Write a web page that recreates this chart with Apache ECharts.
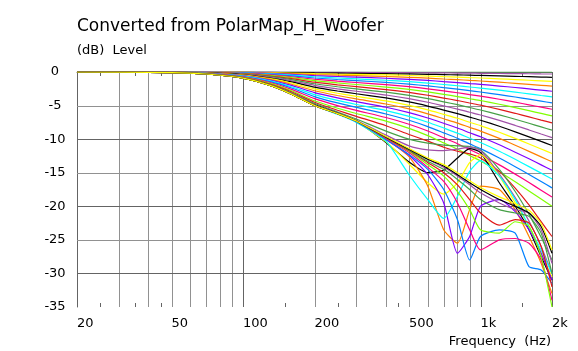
<!DOCTYPE html>
<html><head><meta charset="utf-8">
<script src="https://cdn.jsdelivr.net/npm/echarts@6/dist/echarts.min.js"></script>
<style>html,body{margin:0;padding:0;background:#fff}#c{width:578px;height:351px}</style>
</head><body><div id="c"></div>
<script>
// ---- data (dB vs Hz) ----
const freqs = [20,50,70,100,130,160,200,250,300,400,500,600,700,800,900,1000,1200,1400,1600,1800,2000];
const angles = [0,5,10,15,20,25,30,35,40,45,50,55,60,65,70,75,80,85,90,95,100,105,110,115,120,125,130,135,140,145,150,155,160,165,170,175,180];

const a000 = [0,0,0,0,0,0,0,0,0,0,0,0,0,0,0,0,0,0,0,0,0];
const a005 = [0,0,0,0,0,0,-0.05,-0.06,-0.07,-0.09,-0.1,-0.12,-0.14,-0.16,-0.17,-0.19,-0.22,-0.24,-0.26,-0.29,-0.3];
const a010 = [0,0,-0.01,-0.03,-0.06,-0.09,-0.14,-0.17,-0.2,-0.25,-0.29,-0.34,-0.39,-0.43,-0.47,-0.51,-0.58,-0.64,-0.7,-0.75,-0.8];
const a015 = [0,0,-0.02,-0.05,-0.1,-0.16,-0.25,-0.32,-0.36,-0.44,-0.52,-0.6,-0.69,-0.76,-0.83,-0.89,-1.01,-1.13,-1.23,-1.32,-1.4];
const a020 = [0,0,-0.02,-0.07,-0.15,-0.25,-0.38,-0.48,-0.55,-0.67,-0.79,-0.91,-1.04,-1.14,-1.25,-1.34,-1.52,-1.69,-1.84,-1.98,-2.1];
const a025 = [0,-0.01,-0.03,-0.1,-0.21,-0.35,-0.54,-0.67,-0.77,-0.93,-1.1,-1.26,-1.43,-1.57,-1.72,-1.84,-2.09,-2.31,-2.52,-2.71,-2.87];
const a030 = [0,-0.01,-0.04,-0.13,-0.28,-0.46,-0.71,-0.89,-1.02,-1.23,-1.44,-1.65,-1.86,-2.05,-2.23,-2.39,-2.71,-3.0,-3.26,-3.5,-3.71];
const a035 = [0,-0.01,-0.05,-0.16,-0.35,-0.58,-0.89,-1.12,-1.28,-1.55,-1.81,-2.07,-2.33,-2.55,-2.78,-2.98,-3.37,-3.72,-4.05,-4.34,-4.6];
const a040 = [0,-0.02,-0.07,-0.2,-0.43,-0.71,-1.08,-1.36,-1.56,-1.88,-2.19,-2.5,-2.81,-3.09,-3.36,-3.6,-4.06,-4.49,-4.89,-5.24,-5.55];
const a045 = [0,-0.02,-0.08,-0.24,-0.51,-0.84,-1.29,-1.63,-1.86,-2.24,-2.6,-2.97,-3.33,-3.66,-3.98,-4.25,-4.8,-5.3,-5.76,-6.17,-6.54];
const a050 = [0,-0.02,-0.09,-0.28,-0.6,-0.99,-1.52,-1.91,-2.19,-2.62,-3.04,-3.46,-3.88,-4.25,-4.62,-4.94,-5.57,-6.15,-6.68,-7.16,-7.58];
const a055 = [0,-0.03,-0.11,-0.32,-0.69,-1.14,-1.75,-2.2,-2.52,-3.01,-3.49,-3.97,-4.45,-4.87,-5.29,-5.66,-6.38,-7.04,-7.64,-8.18,-8.66];
const a060 = [0,-0.03,-0.12,-0.36,-0.79,-1.3,-1.99,-2.51,-2.87,-3.43,-3.97,-4.51,-5.05,-5.52,-5.99,-6.4,-7.21,-7.96,-8.63,-9.24,-9.78];
const a065 = [0,-0.03,-0.14,-0.41,-0.89,-1.47,-2.25,-2.83,-3.24,-3.86,-4.46,-5.07,-5.67,-6.2,-6.72,-7.18,-8.08,-8.91,-9.66,-10.34,-10.94];
const a070 = [0,-0.04,-0.15,-0.46,-0.99,-1.64,-2.52,-3.16,-3.62,-4.31,-4.98,-5.64,-6.31,-6.89,-7.48,-7.98,-8.98,-9.89,-10.72,-11.47,-12.14];
const a075 = [0,-0.04,-0.17,-0.51,-1.1,-1.82,-2.79,-3.5,-4.01,-4.77,-5.5,-6.23,-6.97,-7.61,-8.25,-8.8,-9.89,-10.9,-11.82,-12.64,-13.37];
const a080 = [0,-0.05,-0.19,-0.56,-1.21,-2.0,-3.07,-3.86,-4.42,-5.25,-6.05,-6.85,-7.64,-8.34,-9.04,-9.64,-10.84,-11.94,-12.93,-13.83,-14.63];
const a085 = [0,-0.05,-0.2,-0.61,-1.32,-2.19,-3.36,-4.23,-4.84,-5.74,-6.61,-7.48,-8.34,-9.1,-9.86,-10.51,-11.81,-13.0,-14.09,-15.06,-15.93];
const a090 = [0,-0.06,-0.22,-0.67,-1.44,-2.39,-3.66,-4.61,-5.27,-6.25,-7.19,-8.13,-9.06,-9.88,-10.7,-11.41,-12.81,-14.1,-15.27,-16.32,-17.26];
const a095 = [0,-0.06,-0.24,-0.72,-1.57,-2.59,-3.97,-5.0,-5.72,-6.78,-7.78,-8.79,-9.8,-10.68,-11.56,-12.32,-13.83,-15.21,-16.47,-17.6,-18.61];
const a100 = [0,-0.07,-0.26,-0.78,-1.69,-2.8,-4.29,-5.4,-6.18,-7.31,-8.39,-9.47,-10.55,-11.5,-12.44,-13.25,-14.87,-16.36,-17.71,-18.92,-20.0];
const a105 = [0,-0.07,-0.28,-0.82,-1.8,-2.95,-4.5,-5.7,-6.6,-8.0,-9.3,-10.3,-11.2,-11.8,-12.2,-12.8,-14.8,-17.3,-19.8,-22.3,-24.5];
const a110 = [0,-0.07,-0.29,-0.86,-1.9,-3.1,-4.7,-5.95,-7.0,-8.8,-10.0,-10.6,-10.9,-11.0,-11.1,-11.6,-14.5,-17.8,-21.2,-24.6,-28.0];
const a115 = [0,-0.07,-0.3,-0.88,-1.95,-3.2,-4.85,-6.1,-7.2,-9.4,-11.0,-11.6,-11.7,-11.5,-11.2,-11.7,-15.2,-18.7,-22.2,-26.0,-30.0];
const a120 = [0,-0.08,-0.3,-0.9,-1.95,-3.25,-4.9,-6.1,-7.3,-10.5,-13.4,-15.0,-14.6,-12.8,-11.4,-12.0,-16.5,-20.0,-23.5,-27.5,-31.0];
const a125 = [0,-0.08,-0.3,-0.9,-2.0,-3.3,-5.0,-6.2,-7.4,-10.4,-13.7,-16.5,-18.2,-16.5,-13.5,-12.3,-15.5,-19.5,-23.0,-27.0,-30.5];
const a130 = [0,-0.08,-0.3,-0.9,-2.0,-3.3,-5.0,-6.2,-7.3,-10.0,-12.6,-17.0,-23.5,-25.5,-20.5,-17.0,-17.5,-20.5,-24.5,-28.5,-33.0];
const a135 = [0,-0.08,-0.3,-0.9,-2.0,-3.3,-5.0,-6.2,-7.4,-10.1,-12.4,-15.3,-19.5,-27.0,-24.5,-20.0,-19.0,-20.8,-23.5,-27.0,-31.0];
const a140 = [0,-0.08,-0.3,-0.9,-2.0,-3.3,-5.0,-6.3,-7.5,-10.3,-15.3,-19.0,-21.8,-18.5,-14.8,-13.2,-15.5,-19.0,-23.0,-26.5,-30.0];
const a145 = [0,-0.08,-0.3,-0.9,-2.0,-3.3,-5.0,-6.2,-7.4,-10.0,-12.3,-14.5,-17.5,-22.0,-28.0,-24.5,-23.5,-24.0,-29.0,-29.5,-31.5];
const a150 = [0,-0.08,-0.3,-0.9,-2.0,-3.3,-5.0,-6.2,-7.3,-9.9,-12.0,-14.2,-16.3,-19.5,-23.5,-26.5,-25.0,-24.8,-25.5,-28.0,-34.0];
const a155 = [0,-0.08,-0.3,-0.9,-2.0,-3.3,-5.0,-6.2,-7.3,-9.8,-11.8,-13.8,-15.5,-17.8,-20.5,-23.5,-24.0,-22.3,-23.0,-27.5,-35.0];
const a160 = [0,-0.08,-0.3,-0.9,-2.0,-3.3,-5.0,-6.2,-7.3,-9.8,-11.7,-13.5,-15.0,-16.8,-19.0,-21.0,-22.8,-22.0,-22.5,-26.0,-32.0];
const a165 = [0,-0.08,-0.3,-0.9,-2.0,-3.3,-5.0,-6.2,-7.3,-9.7,-11.6,-13.3,-14.5,-16.0,-17.5,-19.0,-20.5,-21.0,-21.5,-24.0,-30.0];
const a170 = [0,-0.08,-0.3,-0.9,-2.0,-3.3,-5.0,-6.2,-7.3,-9.7,-11.5,-13.0,-14.2,-15.5,-16.8,-18.0,-19.5,-20.5,-21.0,-23.5,-28.5];
const a175 = [0,-0.08,-0.3,-0.9,-2.0,-3.3,-5.0,-6.2,-7.3,-9.7,-11.5,-13.0,-14.0,-15.3,-16.5,-17.5,-19.0,-20.0,-21.0,-23.0,-27.0];
const a180 = [0,-0.08,-0.3,-0.9,-2.0,-3.3,-5.0,-6.2,-7.3,-9.6,-11.4,-12.8,-13.8,-15.0,-16.2,-17.2,-18.6,-19.6,-20.6,-22.6,-26.5];

const curves = [a000,a005,a010,a015,a020,a025,a030,a035,a040,a045,a050,a055,a060,a065,a070,a075,a080,a085,a090,a095,a100,
  a105,a110,a115,a120,a125,a130,a135,a140,a145,a150,a155,a160,a165,a170,a175,a180];

const gridFreqs = [20,30,40,50,60,70,80,90,100,200,300,400,500,600,700,800,900,1000,2000];
const minorTickFreqs = [25,35,45,150,250,450,1500];
const gridLevels = [-30,-25,-20,-15,-10,-5,0];
const xTickValues = [20,50,100,200,500,1000,2000];
const xTickLabels = ['20','50','100','200','500','1k','2k'];

// ---- chart ----
const FONT = '"DejaVu Sans", Verdana, sans-serif';
const palette = ['#46a046','#a050a8','#000000','#ffff00','#ff8000','#8000ff','#00ffff','#0080ff','#ff0080','#80ff00','#e01818'];
const DARK = '#646464', LIGHT = '#919191';
const chart = echarts.init(document.getElementById('c'), null, {renderer:'canvas'});

const lineSeries = curves.map((vals, i) => ({
  type: 'line', name: angles[i] + '°',
  data: freqs.map((f, j) => [f, vals[j]]),
  symbol: 'none', showSymbol: false, smooth: 0.2, clip: true,
  lineStyle: {width: 1.2, color: palette[i % palette.length]},
  z: 3, silent: true, animation: false
}));

const vGrid = {
  type: 'custom', z: 1, silent: true, clip: false, animation: false,
  data: gridFreqs.map(f => [f, 0]), encode: {x: 0, y: 1},
  renderItem: (params, api) => {
    const f = api.value(0);
    const p0 = api.coord([f, 0]), p1 = api.coord([f, -35]);
    const dark = (f === 20 || f === 100 || f === 1000 || f === 2000);
    const x = Math.round(p0[0]) + 0.5;
    return {type: 'line', shape: {x1: x, y1: p0[1], x2: x, y2: p1[1]}, style: {stroke: dark ? DARK : LIGHT, lineWidth: 1}};
  }
};
const hGrid = {
  type: 'custom', z: 1, silent: true, clip: false, animation: false,
  data: gridLevels.map(v => [20, v]), encode: {x: 0, y: 1},
  renderItem: (params, api) => {
    const v = api.value(1);
    const p0 = api.coord([20, v]), p1 = api.coord([2000, v]);
    const dark = (v % 10 === 0);
    const y = Math.round(p0[1]) + 0.5;
    return {type: 'line', shape: {x1: p0[0], y1: y, x2: p1[0], y2: y}, style: {stroke: dark ? DARK : LIGHT, lineWidth: 1}};
  }
};
const minorTicks = {
  type: 'custom', z: 2, silent: true, clip: false, animation: false,
  data: minorTickFreqs.map(f => [f, 0]), encode: {x: 0, y: 1},
  renderItem: (params, api) => {
    const f = api.value(0);
    const pt = api.coord([f, 0]), pb = api.coord([f, -35]);
    const x = Math.round(pt[0]) + 0.5;
    return {type: 'group', children: [
      {type: 'line', shape: {x1: x, y1: pb[1], x2: x, y2: pb[1] - 4}, style: {stroke: DARK, lineWidth: 1}},
      {type: 'line', shape: {x1: x, y1: pt[1], x2: x, y2: pt[1] + 4}, style: {stroke: DARK, lineWidth: 1}}
    ]};
  }
};
const xLabels = {
  type: 'custom', z: 2, silent: true, clip: false, animation: false,
  data: xTickValues.map(f => [f, -35]), encode: {x: 0, y: 1},
  renderItem: (params, api) => {
    const p = api.coord([api.value(0), -35]);
    return {type: 'text', x: p[0], y: p[1] + 17, style: {
      text: xTickLabels[params.dataIndex], fill: '#000', align: 'left', verticalAlign: 'middle',
      fontSize: 13, fontFamily: FONT}};
  }
};

chart.setOption({
  animation: false,
  backgroundColor: '#fff',
  grid: {left: 77, right: 26, top: 72, bottom: 44, containLabel: false},
  xAxis: {type: 'log', logBase: 10, min: 20, max: 2000,
    axisLine: {show: true, lineStyle: {color: DARK}}, axisTick: {show: false},
    axisLabel: {show: false}, splitLine: {show: false}, minorTick: {show: false}},
  yAxis: {type: 'value', min: -35, max: 0, interval: 5,
    axisLine: {show: true, lineStyle: {color: DARK}}, axisTick: {show: false},
    splitLine: {show: false},
    axisLabel: {fontSize: 13, color: '#000', fontFamily: FONT, align: 'center', margin: 22}},
  graphic: [
    {type: 'text', left: 77, top: 18, style: {text: 'Converted from PolarMap_H_Woofer', fontSize: 17, fontFamily: FONT, fill: '#000'}},
    {type: 'text', x: 77, y: 51, style: {text: '(dB)  Level', fontSize: 13, fontFamily: FONT, fill: '#000', verticalAlign: 'middle', align: 'left'}},
    {type: 'text', x: 551, y: 342, style: {text: 'Frequency  (Hz)', fontSize: 13, fontFamily: FONT, fill: '#000', verticalAlign: 'middle', align: 'right'}}
  ],
  series: [vGrid, hGrid, minorTicks, xLabels].concat(lineSeries)
});
</script>
</body></html>
